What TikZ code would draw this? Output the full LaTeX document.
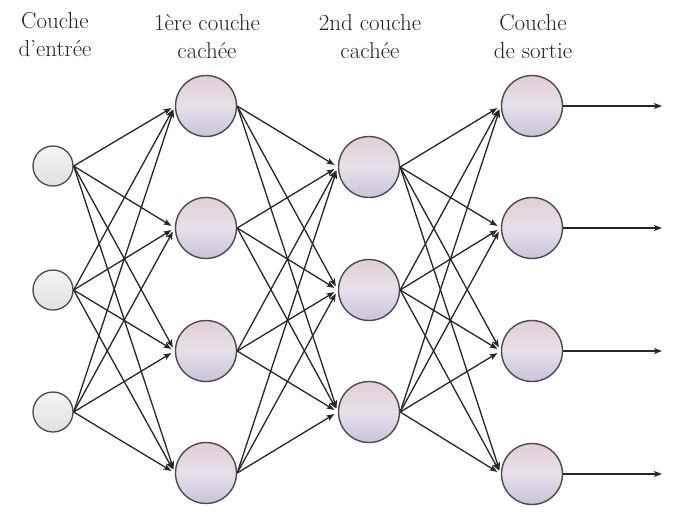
\documentclass[tikz,border=0pt]{standalone}
\usetikzlibrary{arrows.meta}
\definecolor{txt}{HTML}{222222}
\definecolor{ring}{HTML}{4A4A4A}
\definecolor{htop}{HTML}{E2CDD6}
\definecolor{hmid}{HTML}{E6E0EA}
\definecolor{hbot}{HTML}{CBC1DC}
\definecolor{itop}{HTML}{F4F4F4}
\definecolor{ibot}{HTML}{E0E0E0}
\begin{document}
\begin{tikzpicture}[x=1pt,y=-1pt,
  hid/.style={circle,draw=ring,line width=1.4pt,minimum size=61pt,inner sep=0pt,
    top color=htop,bottom color=hbot,middle color=hmid},
  inp/.style={circle,draw=ring,line width=1.3pt,minimum size=40pt,inner sep=0pt,
    top color=itop,bottom color=ibot},
  conn/.style={line width=1.3pt,color=black!85,-{Stealth[length=8pt,width=6pt,inset=2pt]},shorten >=4pt},
  lbl/.style={text=txt,font=\fontsize{23}{28}\selectfont,align=center,inner sep=0pt}
  ]
\useasboundingbox (0,0) rectangle (687,531);
% labels
\node[lbl] (l1) at (55,35) {Couche\\d'entrée};
\node[lbl] (l2) at (207,37) {1ère couche\\cachée};
\node[lbl] (l3) at (370,37) {2nd couche\\cachée};
\node[lbl] (l4) at (533,37) {Couche\\de sortie};
% input
\node[inp] (i1) at (53,166) {};
\node[inp] (i2) at (53,290) {};
\node[inp] (i3) at (53,412) {};
% hidden 1
\node[hid] (a1) at (206,106) {};
\node[hid] (a2) at (206,228) {};
\node[hid] (a3) at (206,351) {};
\node[hid] (a4) at (206,473) {};
% hidden 2
\node[hid] (b1) at (369,167) {};
\node[hid] (b2) at (369,290) {};
\node[hid] (b3) at (369,412) {};
% output
\node[hid] (o1) at (532,106) {};
\node[hid] (o2) at (532,228) {};
\node[hid] (o3) at (532,351) {};
\node[hid] (o4) at (532,474) {};
% free ends
\coordinate (e1) at (662,106);
\coordinate (e2) at (662,228);
\coordinate (e3) at (662,351);
\coordinate (e4) at (662,474);
% connections
\foreach \s in {1,2,3}{\foreach \t in {1,2,3,4}{\draw[conn] (i\s.east) -- (a\t.west);}}
\foreach \s in {1,2,3,4}{\foreach \t in {1,2,3}{\draw[conn] (a\s.east) -- (b\t.west);}}
\foreach \s in {1,2,3}{\foreach \t in {1,2,3,4}{\draw[conn] (b\s.east) -- (o\t.west);}}
\foreach \t in {1,2,3,4}{\draw[conn,shorten >=0pt] (o\t.east) -- (e\t);}
\end{tikzpicture}
\end{document}
